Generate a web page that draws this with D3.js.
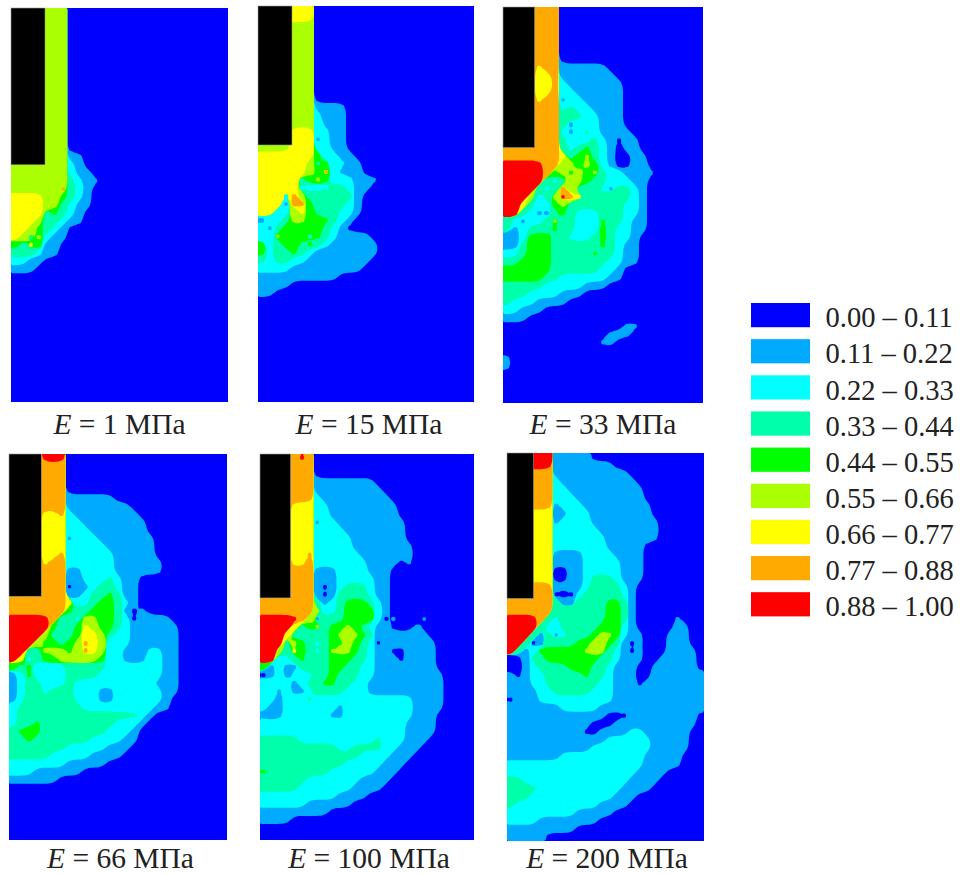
<!DOCTYPE html>
<html>
<head>
<meta charset="utf-8">
<script src="https://cdn.jsdelivr.net/npm/d3@7"></script>
<style>
    html, body { margin: 0; padding: 0; background: #fff; }
    text { font-family: "Liberation Serif", serif; fill: #222; }
</style>
</head>
<body>
<div id="chart"></div>
<script>
// moduli of the six runs and the legend bands
const moduli = ["1", "15", "33", "66", "100", "200"];
const bandLabels = ["0.00 – 0.11", "0.11 – 0.22", "0.22 – 0.33", "0.33 – 0.44", "0.44 – 0.55",
    "0.55 – 0.66", "0.66 – 0.77", "0.77 – 0.88", "0.88 – 1.00"];
const bandColors = ["#0000ff", "#00aaff", "#00ffff", "#00ffaa", "#00ff00", "#aaff00", "#ffff00", "#ffaa00", "#ff0000"];

// field grids: one digit per cell = band index, short rows end in band 0
const field1 = [
    "5555555", "5555555", "5555555", "5555555", "5555555", "5555555", "5555555", "5555555", "5555555",
    "5555555", "5555555", "5555555", "5555555", "5555555", "5555555", "5555555", "5555555", "5555555",
    "555555511", "555555521", "5555555211", "55555553211", "5555557321", "6666554321", "6666553211",
    "666634321", "666533211", "6654321", "6535211", "436411", "333211", "2211", "111"
];
const field2 = [
    "6666666", "6666666", "5555555", "5555555", "5555555", "5555555", "5555555", "5555555", "5555555",
    "5555555", "5555555", "5555555", "55555551111", "55555552111", "55555552111", "55556662211",
    "55556661211", "55556662211", "666666642211", "6666665342211", "6666665472111", "666663454222111",
    "66666222233211", "6662753333331", "6661774333321", "6622564333221", "122355444321", "21344444321",
    "22544434321111", "423443432111111", "423343211111111", "32332211111111", "2222111111111",
    "1111111111", "1111", "11"
];
const field3 = [
    "7777777", "7777777", "7777777", "7777777", "7777777", "7777777", "7777777",
    "7777677111111", "77776671111111", "777766721111111", "777766722111111", "777767712211111",
    "777777723221111", "777777733322111", "777777731222111", "7777777212321111", "77777773222321011",
    "77777773234321011", "777777763453210011", "888887755454210011", "8888874545453221111",
    "888883235543322211", "888832375333213321", "888523587633333321", "886322453333333221",
    "883211343222333221", "321223533222433211", "312333433222432211", "11244433222343221",
    "11344433333343211", "22344433333433211", "33444433333332211", "444444333333221",
    "444443322222211", "3333322222111", "3332222111", "32221111", "22111", "111",
    "00000000000000011", "0000000000000111", "00000000000011", "", "1", "1"
];
const field4 = [
    "7777888", "7777777", "7777777", "7777777", "7777777", "7777777111111", "777777711111111",
    "7777667211111111", "77776662211111111", "77776662221111111", "777766612221111111",
    "777766622222111111", "777766722222211111", "7777677222222111111", "7777777112222111111",
    "7777777112223211", "7777777011233211", "7777777112334311", "7777777622344321", "77777774334443101",
    "88888733255443201111", "888884334654432111111", "888853334665322111111", "888544345765222111111",
    "883355545765221112211", "862344555554221112211", "434222233333222222211", "124222233332222222211",
    "123322232222222222111", "123323332221122222211", "12333333222112222221", "23333333322222222211",
    "233333333333333321", "23343333333332221", "3444333333332221", "3343333333222211", "333333322222111",
    "33333222221111", "222222211111", "222111111", "111111"
];
const field5 = [
    "7777787", "7777777", "7777777", "777777711111111", "7777777111111111", "77777772111111111",
    "777766622111111111", "777766622111111111", "7777666122111111111", "7777666222211111111",
    "7777666222221111111", "77776662222211111111", "77776672222221111111", "77776672222222111101",
    "77777771112222111", "77777771112222211", "77777771012333211", "77777771013333211",
    "77777773123444321", "77777775223444421", "8888875133344442010001", "888863453445432110001",
    "8886333334555431111111", "88835432344543201111111", "88536432355543211001111",
    "88223433344433211101111", "41211333344332211111111", "012122233433322111111111",
    "222212334433221111111111", "221211233332221111111111", "221222322222222222221111",
    "211222222212222222221111", "11122222211222222222111", "22222222222222222221111",
    "22222222222222222221111", "3333322222222223222111", "333333333322333322111", "33333333333332222111",
    "3333333333322222111", "433333333222222111", "33333322222221111", "3333322222221111", "22222222221111",
    "222222111111", "111111111", "1111"
];
const field6 = [
    "88888811111", "88888811111111", "7777771111111111", "77777721111111111", "777777221111111111",
    "777777222111111111", "7777771222111111111", "6666661122211111111", "66666612222111111111",
    "66666622222211111111", "66666622222221111111", "666666222222211111", "666666111122221111",
    "666666111122222111", "666666001122222111", "666666001123332111", "77777711112333321",
    "77777700023333321", "77777731133334431", "77777733333334431", "88887323333334431000001",
    "888832233333444210000011", "888313123334554211000111", "883013333445543101000111",
    "8312444444555321010001111", "0013344444443321110011111", "0012333344433211100111111",
    "10122333334332111001111111", "11122333333322111011111111", "11112233333222111111111111",
    "01112222222222111111111111", "11111112222211111111111111", "1111111111111000111111111",
    "1111111111100011111111111", "111111111100111122111111", "111111111111122222211111",
    "111111111112222222211111", "11111112222222222211111", "22222222222222222211111",
    "222222222222222221111", "33222222222222221111", "3333222222222221111", "33322222222222111",
    "3222222222221111", "22222222211111", "222211111111", "111111111", "11111"
];
const fields = [field1, field2, field3, field4, field5, field6];

// grid size of each panel and the extent of the black indenter, in grid cells
const gridCols = [27, 27, 25, 27, 28, 26];
const gridRows = [49, 49, 49, 48, 48, 48];
const indenterCols = [4.23, 4.25, 3.96, 4, 4, 3.5];
const indenterRows = [19.5, 17.2, 17.4, 17.7, 17.9, 18];

// page layout
const width = 960;
const height = 874;
const panelLeft = [11, 258, 503, 9, 260, 507];
const panelRight = [228, 474, 703, 227, 474, 704];
const panelTop = [8, 6, 7, 454, 454, 453];
const panelBottom = [402, 402, 403, 840, 840, 841];
const captionX = [119.5, 369, 603, 120.5, 369, 607];
const captionY = [434, 434, 434, 867.5, 867.5, 867.5];
const fine = 4;

const svg = d3.select("#chart")
    .append("svg")
    .attr("width", width)
    .attr("height", height)
    .style("display", "block");

// the source figure is a slightly soft raster
const defs = svg.append("defs");
defs.append("filter").attr("id", "soft")
    .append("feGaussianBlur").attr("stdDeviation", 0.5);

// band mask on a finer grid, blurred so the cell stairs turn into straight diagonals
function bandMask(values, cols, rows, band) {
    const w = cols * fine;
    const h = rows * fine;
    const data = new Float64Array(w * h);
    for (let j = 0; j < h; j++) {
        for (let i = 0; i < w; i++) {
            const v = values[Math.floor(j / fine) * cols + Math.floor(i / fine)];
            data[j * w + i] = v >= band ? 1 : 0;
        }
    }
    d3.blur2({data: data, width: w, height: h}, 2);
    // single cells would vanish in the blur, keep their middles
    for (let r = 0; r < rows; r++) {
        for (let c = 0; c < cols; c++) {
            const on = values[r * cols + c] >= band;
            for (let j = 1; j < fine - 1; j++) {
                for (let i = 1; i < fine - 1; i++) {
                    const at = (r * fine + j) * w + c * fine + i;
                    data[at] = on ? Math.max(data[at], 0.6) : Math.min(data[at], 0.4);
                }
            }
        }
    }
    return data;
}

fields.forEach(function (field, p) {
    const cols = gridCols[p];
    const rows = gridRows[p];
    const x = d3.scaleLinear().domain([0, cols]).range([panelLeft[p], panelRight[p]]);
    const y = d3.scaleLinear().domain([0, rows]).range([panelTop[p], panelBottom[p]]);
    const path = d3.geoPath(d3.geoTransform({
        point: function (px, py) { this.stream.point(x(px / fine), y(py / fine)); }
    }));

    const values = [];
    for (let r = 0; r < rows; r++) {
        const row = (field[r] || "").padEnd(cols, "0");
        for (let c = 0; c < cols; c++) values.push(+row[c]);
    }

    const g = svg.append("g").attr("filter", "url(#soft)");
    g.append("rect")
        .attr("x", x(0)).attr("y", y(0))
        .attr("width", x(cols) - x(0)).attr("height", y(rows) - y(0))
        .attr("fill", bandColors[0]);

    const contours = d3.contours().size([cols * fine, rows * fine]).thresholds([0.5]);
    d3.range(1, bandColors.length).forEach(function (band) {
        g.append("path")
            .attr("d", path(contours(bandMask(values, cols, rows, band))[0]))
            .attr("fill", bandColors[band]);
    });

    g.append("rect")
        .attr("x", x(0)).attr("y", y(0))
        .attr("width", x(indenterCols[p]) - x(0)).attr("height", y(indenterRows[p]) - y(0))
        .attr("fill", "#000")
        .attr("stroke", "#999")
        .attr("stroke-width", 0.6);

    const caption = svg.append("text")
        .attr("x", captionX[p]).attr("y", captionY[p])
        .attr("text-anchor", "middle")
        .attr("font-size", 29.5);
    caption.append("tspan").attr("font-style", "italic").text("E");
    caption.append("tspan").text(" = " + moduli[p] + " МПа");
});

// legend
const legendY = d3.scaleBand().domain(bandLabels).range([303, 616.4]).paddingInner(0.33);
const legend = svg.append("g").selectAll("g")
    .data(bandLabels)
    .enter().append("g");
legend.append("rect")
    .attr("x", 751)
    .attr("y", function (d) { return legendY(d); })
    .attr("width", 59)
    .attr("height", legendY.bandwidth())
    .attr("fill", function (d, i) { return bandColors[i]; })
    .attr("filter", "url(#soft)");
legend.append("text")
    .attr("x", 825.5)
    .attr("y", function (d) { return legendY(d) + legendY.bandwidth(); })
    .attr("font-size", 28.5)
    .text(function (d) { return d; });
</script>
</body>
</html>
